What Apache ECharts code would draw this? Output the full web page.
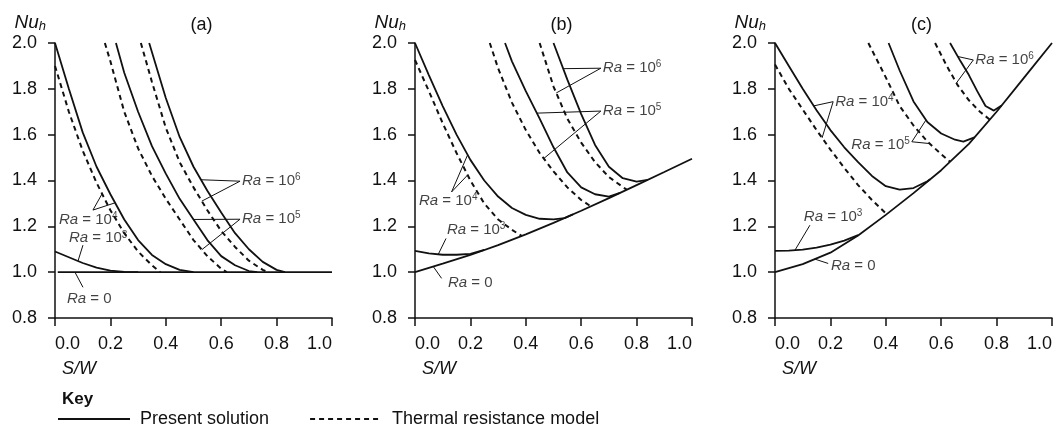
<!DOCTYPE html>
<html>
<head>
<meta charset="utf-8">
<script src="https://cdn.jsdelivr.net/npm/echarts@6/dist/echarts.min.js"></script>
<style>
html,body{margin:0;padding:0;background:#fff;}
#chart{width:1057px;height:427px;}
</style>
</head>
<body>
<div id="chart"></div>
<script>
// ---------- tick labels ----------
const xTickLabels = ['0.0', '0.2', '0.4', '0.6', '0.8', '1.0'];
const yTickLabels = ['0.8', '1.0', '1.2', '1.4', '1.6', '1.8', '2.0'];
const panelTitles = ['(a)', '(b)', '(c)'];

// ---------- panel (a): [S/W, Nu_h] ----------
const a_pres_ra0 = [[0.01, 1.0], [1.0, 1.0]];
const a_pres_ra3 = [[0, 1.09], [0.05, 1.065], [0.1, 1.04], [0.15, 1.02], [0.2, 1.007], [0.25, 1.001], [0.3, 1.0]];
const a_pres_ra4 = [[0, 2.0], [0.05, 1.80], [0.1, 1.61], [0.15, 1.46], [0.2, 1.34], [0.25, 1.23], [0.3, 1.14], [0.35, 1.075], [0.4, 1.035], [0.45, 1.01], [0.5, 1.0]];
const a_model_ra4 = [[0, 1.90], [0.05, 1.70], [0.1, 1.53], [0.15, 1.39], [0.2, 1.27], [0.25, 1.17], [0.3, 1.09], [0.35, 1.03], [0.38, 1.0]];
const a_pres_ra5 = [[0.22, 2.0], [0.25, 1.87], [0.3, 1.70], [0.35, 1.55], [0.4, 1.43], [0.45, 1.32], [0.5, 1.23], [0.55, 1.14], [0.6, 1.07], [0.65, 1.03], [0.7, 1.005], [0.73, 1.0]];
const a_model_ra5 = [[0.18, 2.0], [0.2, 1.92], [0.25, 1.70], [0.3, 1.54], [0.35, 1.42], [0.4, 1.32], [0.45, 1.23], [0.5, 1.14], [0.55, 1.07], [0.6, 1.015], [0.62, 1.0]];
const a_pres_ra6 = [[0.34, 2.0], [0.4, 1.76], [0.45, 1.59], [0.5, 1.46], [0.55, 1.355], [0.6, 1.26], [0.65, 1.17], [0.7, 1.10], [0.75, 1.045], [0.8, 1.01], [0.83, 1.0]];
const a_model_ra6 = [[0.31, 2.0], [0.35, 1.83], [0.4, 1.63], [0.45, 1.48], [0.5, 1.37], [0.55, 1.27], [0.6, 1.18], [0.65, 1.11], [0.7, 1.05], [0.75, 1.01], [0.77, 1.0]];

// ---------- panel (b) ----------
const b_pres_ra0 = [[0, 1.0], [0.1, 1.037], [0.2, 1.075], [0.3, 1.118], [0.4, 1.165], [0.5, 1.215], [0.6, 1.268], [0.7, 1.323], [0.8, 1.38], [0.9, 1.437], [1.0, 1.495]];
const b_pres_ra3 = [[0, 1.093], [0.05, 1.082], [0.1, 1.076], [0.15, 1.076], [0.2, 1.08], [0.25, 1.097]];
const b_pres_ra4 = [[0, 2.0], [0.05, 1.86], [0.1, 1.725], [0.15, 1.60], [0.2, 1.49], [0.25, 1.40], [0.3, 1.33], [0.35, 1.28], [0.4, 1.25], [0.45, 1.233], [0.5, 1.23], [0.54, 1.236], [0.57, 1.252]];
const b_model_ra4 = [[0, 1.926], [0.05, 1.79], [0.1, 1.65], [0.15, 1.52], [0.2, 1.40], [0.25, 1.30], [0.3, 1.23], [0.35, 1.185], [0.385, 1.158]];
const b_pres_ra5 = [[0.325, 2.0], [0.35, 1.92], [0.4, 1.79], [0.45, 1.67], [0.5, 1.545], [0.55, 1.435], [0.6, 1.37], [0.65, 1.34], [0.7, 1.33], [0.74, 1.346]];
const b_model_ra5 = [[0.27, 2.0], [0.3, 1.89], [0.35, 1.74], [0.4, 1.62], [0.45, 1.52], [0.5, 1.44], [0.55, 1.37], [0.6, 1.315], [0.635, 1.287]];
const b_pres_ra6 = [[0.5, 2.0], [0.55, 1.84], [0.6, 1.69], [0.65, 1.555], [0.7, 1.46], [0.75, 1.41], [0.8, 1.395], [0.84, 1.403]];
const b_model_ra6 = [[0.45, 2.0], [0.5, 1.81], [0.55, 1.67], [0.6, 1.565], [0.65, 1.48], [0.7, 1.415], [0.764, 1.36]];

// ---------- panel (c) ----------
const c_pres_ra0 = [[0, 1.0], [0.1, 1.035], [0.2, 1.085], [0.3, 1.16], [0.4, 1.25], [0.5, 1.345], [0.6, 1.445], [0.7, 1.56], [0.8, 1.70], [0.9, 1.85], [1.0, 2.0]];
const c_pres_ra3 = [[0, 1.093], [0.05, 1.094], [0.1, 1.098], [0.15, 1.107], [0.2, 1.12], [0.25, 1.138], [0.3, 1.162]];
const c_pres_ra4 = [[0, 2.0], [0.05, 1.90], [0.1, 1.80], [0.15, 1.707], [0.2, 1.62], [0.25, 1.545], [0.3, 1.48], [0.35, 1.42], [0.4, 1.375], [0.45, 1.36], [0.5, 1.367], [0.55, 1.397], [0.56, 1.405]];
const c_model_ra4 = [[0, 1.906], [0.05, 1.80], [0.1, 1.71], [0.15, 1.62], [0.2, 1.535], [0.25, 1.455], [0.3, 1.38], [0.35, 1.315], [0.403, 1.253]];
const c_pres_ra5 = [[0.41, 2.0], [0.45, 1.88], [0.5, 1.745], [0.55, 1.655], [0.6, 1.605], [0.65, 1.578], [0.68, 1.57], [0.72, 1.588]];
const c_model_ra5 = [[0.337, 2.0], [0.4, 1.85], [0.45, 1.725], [0.5, 1.64], [0.55, 1.57], [0.6, 1.515], [0.632, 1.482]];
const c_pres_ra6 = [[0.632, 2.0], [0.67, 1.92], [0.7, 1.86], [0.73, 1.79], [0.76, 1.725], [0.79, 1.705], [0.818, 1.727]];
const c_model_ra6 = [[0.578, 2.0], [0.62, 1.90], [0.66, 1.815], [0.7, 1.75], [0.74, 1.70], [0.776, 1.665]];

const presentCurves = [
  [a_pres_ra0, a_pres_ra3, a_pres_ra4, a_pres_ra5, a_pres_ra6],
  [b_pres_ra0, b_pres_ra3, b_pres_ra4, b_pres_ra5, b_pres_ra6],
  [c_pres_ra0, c_pres_ra3, c_pres_ra4, c_pres_ra5, c_pres_ra6]
];
const modelCurves = [
  [a_model_ra4, a_model_ra5, a_model_ra6],
  [b_model_ra4, b_model_ra5, b_model_ra6],
  [c_model_ra4, c_model_ra5, c_model_ra6]
];

// point on a curve at a given S/W (linear interpolation between read points)
function on(curve, s) {
  for (let i = 0; i < curve.length - 1; i++) {
    const p = curve[i], q = curve[i + 1];
    if (s >= p[0] && s <= q[0]) {
      return [s, p[1] + (q[1] - p[1]) * (s - p[0]) / (q[0] - p[0])];
    }
  }
  return curve[curve.length - 1].slice();
}

// ---------- annotations (data coordinates) ----------
const annotations = [
  // panel (a)
  { g: 0, exp: '6', at: [0.668, 1.397], side: 'right', paths: [[on(a_pres_ra6, 0.527), [0.668, 1.397], on(a_model_ra6, 0.53)]] },
  { g: 0, exp: '5', at: [0.668, 1.231], side: 'right', paths: [[on(a_pres_ra5, 0.5), [0.668, 1.231], on(a_model_ra5, 0.53)]] },
  { g: 0, exp: '4', at: [0.007, 1.227], side: 'right', paths: [[on(a_model_ra4, 0.17), [0.137, 1.271], on(a_pres_ra4, 0.217)]] },
  { g: 0, exp: '3', at: [0.043, 1.148], side: 'right', paths: [[on(a_pres_ra3, 0.083), [0.101, 1.118]]] },
  { g: 0, exp: null, at: [0.036, 0.882], side: 'right', paths: [[[0.072, 1.0], [0.101, 0.934]]] },
  // panel (b)
  { g: 1, exp: '6', at: [0.671, 1.89], side: 'right', paths: [[on(b_pres_ra6, 0.535), [0.671, 1.89], on(b_model_ra6, 0.51)]] },
  { g: 1, exp: '5', at: [0.671, 1.703], side: 'right', paths: [[on(b_pres_ra5, 0.44), [0.671, 1.703], on(b_model_ra5, 0.465)]] },
  { g: 1, exp: '4', at: [0.007, 1.31], side: 'right', paths: [[on(b_pres_ra4, 0.19), [0.132, 1.35], on(b_model_ra4, 0.19)]] },
  { g: 1, exp: '3', at: [0.108, 1.183], side: 'right', paths: [[on(b_pres_ra3, 0.084), [0.112, 1.147]]] },
  { g: 1, exp: null, at: [0.112, 0.952], side: 'right', paths: [[on(b_pres_ra0, 0.066), [0.096, 0.973]]] },
  // panel (c)
  { g: 2, exp: '6', at: [0.716, 1.926], side: 'right', paths: [[on(c_pres_ra6, 0.66), [0.716, 1.926], on(c_model_ra6, 0.655)]] },
  { g: 2, exp: '4', at: [0.21, 1.744], side: 'right', paths: [[on(c_pres_ra4, 0.14), [0.21, 1.744], on(c_model_ra4, 0.17)]] },
  { g: 2, exp: '5', at: [0.494, 1.555], side: 'left', paths: [[on(c_pres_ra5, 0.545), [0.494, 1.569], on(c_model_ra5, 0.558)]] },
  { g: 2, exp: '3', at: [0.097, 1.241], side: 'right', paths: [[on(c_pres_ra3, 0.072), [0.126, 1.205]]] },
  { g: 2, exp: null, at: [0.195, 1.026], side: 'right', paths: [[on(c_pres_ra0, 0.144), [0.192, 1.038]]] }
];

// ---------- build chart ----------
const FONT = 'Liberation Sans';
const INK = '#111';
const gridLefts = [55, 415, 775];
const GW = 277, GTOP = 43, GH = 275;

const richRa = {
  i: { fontStyle: 'italic', fontSize: 15, fontFamily: FONT, color: INK },
  n: { fontSize: 15, fontFamily: FONT, color: INK },
  sup: { fontSize: 10, fontFamily: FONT, color: INK, verticalAlign: 'top', padding: [0, 0, 7, 0] }
};
function raText(exp) {
  return exp === null ? '{i|Ra}{n| = 0}' : '{i|Ra}{n| = 10}{sup|' + exp + '}';
}

const grids = [], xAxes = [], yAxes = [], series = [], titles = [];
for (let g = 0; g < 3; g++) {
  grids.push({ left: gridLefts[g], top: GTOP, width: GW, height: GH });
  xAxes.push({
    gridIndex: g, type: 'value', min: 0, max: 1, interval: 0.2,
    axisLine: { show: true, onZero: false, lineStyle: { color: INK, width: 1.5 } },
    axisTick: { show: true, length: 8, lineStyle: { color: INK, width: 1.5 } },
    axisLabel: {
      margin: 17, fontSize: 18, color: INK, fontFamily: FONT,
      alignMinLabel: 'left', alignMaxLabel: 'right',
      formatter: v => xTickLabels[Math.round(v / 0.2)]
    },
    splitLine: { show: false }
  });
  yAxes.push({
    gridIndex: g, type: 'value', min: 0.8, max: 2.0, interval: 0.2, offset: 8,
    axisLine: { show: true, lineStyle: { color: INK, width: 1.5 } },
    axisTick: { show: true, length: 7, lineStyle: { color: INK, width: 1.5 } },
    axisLabel: {
      margin: 10, fontSize: 18, color: INK, fontFamily: FONT,
      formatter: v => yTickLabels[Math.round((v - 0.8) / 0.2)]
    },
    splitLine: { show: false },
    name: '{i|Nu}{s|h}', nameLocation: 'end', nameGap: 10,
    nameTextStyle: {
      align: 'right', verticalAlign: 'bottom', padding: [0, 9, 0, 0],
      rich: {
        i: { fontStyle: 'italic', fontSize: 19, fontFamily: FONT, color: INK },
        s: { fontStyle: 'italic', fontSize: 13, fontFamily: FONT, color: INK, verticalAlign: 'bottom', padding: [7, 0, 0, 0] }
      }
    }
  });
  titles.push({
    text: panelTitles[g], left: gridLefts[g] + GW / 2 + 3, top: 11, textAlign: 'center',
    textStyle: { fontSize: 18, fontWeight: 'normal', color: INK, fontFamily: FONT }
  });
  titles.push({
    text: 'S/W', left: gridLefts[g] + 2, top: 355,
    textStyle: { fontSize: 18, fontWeight: 'normal', fontStyle: 'italic', color: INK, fontFamily: FONT }
  });
  presentCurves[g].forEach(d => series.push({
    type: 'line', name: 'Present solution', xAxisIndex: g, yAxisIndex: g, data: d,
    symbol: 'none', silent: true, z: 3,
    lineStyle: { color: INK, width: 1.8, type: 'solid' }, itemStyle: { color: INK }
  }));
  modelCurves[g].forEach(d => series.push({
    type: 'line', name: 'Thermal resistance model', xAxisIndex: g, yAxisIndex: g, data: d,
    symbol: 'none', silent: true, z: 3,
    lineStyle: { color: INK, width: 2, type: [5, 4] }, itemStyle: { color: INK }
  }));
}

annotations.forEach(a => {
  a.paths.forEach(p => series.push({
    type: 'line', name: 'leader', xAxisIndex: a.g, yAxisIndex: a.g, data: p,
    symbol: 'none', silent: true, z: 4,
    lineStyle: { color: INK, width: 1 }
  }));
  series.push({
    type: 'scatter', name: 'label', xAxisIndex: a.g, yAxisIndex: a.g,
    data: [a.at], symbolSize: 0, silent: true, z: 5,
    label: {
      show: true, position: a.side, distance: 2,
      formatter: raText(a.exp), rich: richRa,
      fontSize: 15, fontFamily: FONT, color: INK
    }
  });
});

titles.push({
  text: 'Key', left: 57, top: 386,
  textStyle: { fontSize: 17, fontWeight: 'bold', color: INK, fontFamily: FONT }
});

const option = {
  backgroundColor: '#fff',
  animation: false,
  title: titles,
  grid: grids,
  xAxis: xAxes,
  yAxis: yAxes,
  legend: {
    data: ['Present solution', 'Thermal resistance model'],
    left: 57, top: 410, padding: 0, itemWidth: 72, itemHeight: 14, itemGap: 40,
    selectedMode: false,
    itemStyle: { opacity: 0 },
    textStyle: { fontSize: 18, color: INK, fontFamily: FONT, padding: [0, 0, 0, 5] }
  },
  series: series
};

const chart = echarts.init(document.getElementById('chart'), null, { renderer: 'canvas' });
chart.setOption(option);
</script>
</body>
</html>
